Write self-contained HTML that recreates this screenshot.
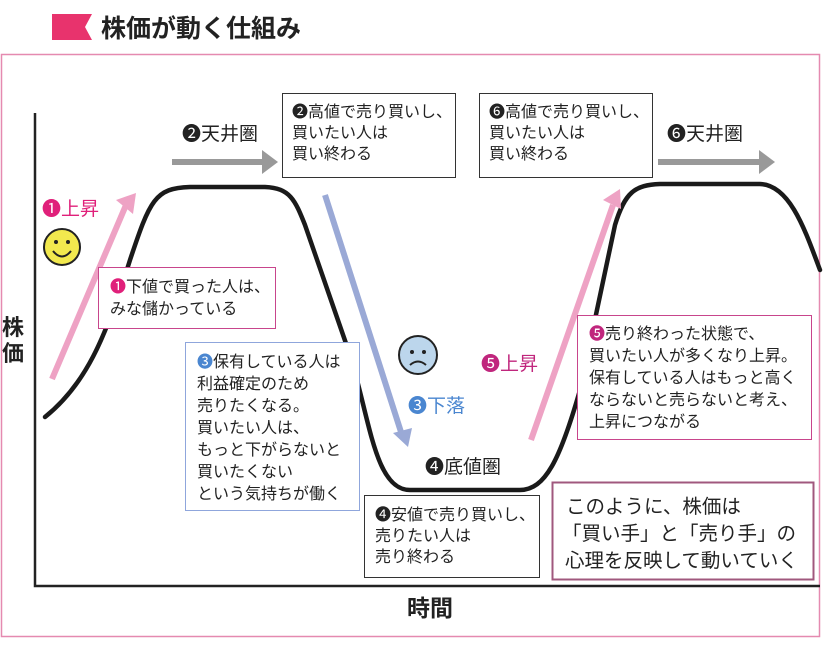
<!DOCTYPE html>
<html><head><meta charset="utf-8"><style>
html,body{margin:0;padding:0;background:#fff;}
svg{display:block;font-family:"Liberation Sans","Noto Sans CJK JP",sans-serif;}
</style></head><body>
<svg width="829" height="645" viewBox="0 0 829 645" xmlns="http://www.w3.org/2000/svg">
<!-- title -->
<polygon points="52,14 92,14 85,27 92,40 52,40" fill="#e8336d"/>
<text x="101" y="37" font-size="25" font-weight="bold" fill="#222">株価が動く仕組み</text>
<!-- frame -->
<rect x="1.5" y="54.5" width="818" height="582" fill="none" stroke="#e58ab0" stroke-width="1.5"/>
<!-- axes -->
<path d="M35,113 L35,586 L820,586" fill="none" stroke="#222" stroke-width="2.5"/>
<text x="2" y="335" font-size="22" font-weight="bold" fill="#222">株</text>
<text x="2" y="361" font-size="22" font-weight="bold" fill="#222">価</text>
<text x="407" y="616" font-size="23" font-weight="bold" fill="#222">時間</text>
<!-- curve -->
<path d="M45,417 C85,385 105,340 130,260 C150,200 155,188 190,187 L265,187 C290,188 295,200 305,225 L350,355 C370,420 375,490 410,490 L520,490 C545,490 560,460 580,390 L615,225 C625,192 635,185 660,184 L760,184 C790,185 805,230 820,270" fill="none" stroke="#1a1a1a" stroke-width="4.5" stroke-linecap="round"/>
<!-- gray arrows -->
<line x1="172" y1="162" x2="265" y2="162" stroke="#999" stroke-width="6"/>
<polygon points="262,150 278,162 262,174" fill="#999"/>
<line x1="658" y1="162" x2="762" y2="162" stroke="#999" stroke-width="6"/>
<polygon points="759,150 775,162 759,174" fill="#999"/>
<!-- pink up arrow 1 -->
<line x1="52" y1="379" x2="126" y2="205" stroke="#eea2c4" stroke-width="6"/>
<polygon points="116,200 136,193 133,214" fill="#eea2c4"/>
<!-- blue down arrow -->
<line x1="325" y1="195" x2="401" y2="432" stroke="#9aa9d6" stroke-width="6"/>
<polygon points="393,433 408,447 412,428" fill="#9aa9d6"/>
<!-- pink up arrow 5 -->
<line x1="531" y1="440" x2="613" y2="205" stroke="#eea2c4" stroke-width="6"/>
<polygon points="603,200 620,189 621,209" fill="#eea2c4"/>
<!-- labels -->
<text x="182" y="140" font-size="19" fill="#222">❷天井圏</text>
<text x="667" y="140" font-size="19" fill="#222">❻天井圏</text>
<text x="42" y="215" font-size="19" fill="#e0207a">❶上昇</text>
<text x="481" y="370" font-size="19" fill="#c0267d">❺上昇</text>
<text x="408" y="412" font-size="19" fill="#4a86d0">❸下落</text>
<text x="425" y="473" font-size="19" fill="#222">❹底値圏</text>
<!-- smiley -->
<circle cx="62" cy="247" r="18" fill="#f2e94e" stroke="#222" stroke-width="2"/>
<circle cx="56" cy="242" r="2" fill="#222"/><circle cx="68" cy="242" r="2" fill="#222"/>
<path d="M53,251 Q62,262 71,251" fill="none" stroke="#222" stroke-width="2"/>
<!-- sad -->
<circle cx="418" cy="355" r="19" fill="#bcd6ec" stroke="#222" stroke-width="2"/>
<circle cx="412" cy="352" r="2" fill="#222"/><circle cx="424" cy="352" r="2" fill="#222"/>
<path d="M410,365 Q418,358 426,365" fill="none" stroke="#222" stroke-width="2"/>
<!-- boxes -->
<rect x="282.5" y="93.5" width="173" height="84" fill="#fff" stroke="#333"/>
<text font-size="16" fill="#222"><tspan x="292" y="117">❷高値で売り買いし、</tspan><tspan x="292" y="138">買いたい人は</tspan><tspan x="292" y="159">買い終わる</tspan></text>
<rect x="479.5" y="93.5" width="173" height="84" fill="#fff" stroke="#333"/>
<text font-size="16" fill="#222"><tspan x="489" y="117">❻高値で売り買いし、</tspan><tspan x="489" y="138">買いたい人は</tspan><tspan x="489" y="159">買い終わる</tspan></text>
<rect x="98.5" y="267.5" width="177" height="61" fill="#fff" stroke="#c8458c"/>
<text font-size="16" fill="#222"><tspan x="110" y="292"><tspan fill="#e0207a">❶</tspan>下値で買った人は、</tspan><tspan x="110" y="314">みな儲かっている</tspan></text>
<rect x="185.5" y="342.5" width="174" height="168" fill="#fff" stroke="#8fa6dc"/>
<text font-size="16" fill="#222"><tspan x="197" y="367"><tspan fill="#4a86d0">❸</tspan>保有している人は</tspan><tspan x="197" y="389">利益確定のため</tspan><tspan x="197" y="411">売りたくなる。</tspan><tspan x="197" y="433">買いたい人は、</tspan><tspan x="197" y="455">もっと下がらないと</tspan><tspan x="197" y="477">買いたくない</tspan><tspan x="197" y="499">という気持ちが働く</tspan></text>
<rect x="364.5" y="495.5" width="175" height="82" fill="#fff" stroke="#333"/>
<text font-size="16" fill="#222"><tspan x="375" y="520">❹安値で売り買いし、</tspan><tspan x="375" y="541">売りたい人は</tspan><tspan x="375" y="562">売り終わる</tspan></text>
<rect x="577.5" y="315.5" width="234" height="124" fill="#fff" stroke="#c8458c"/>
<text font-size="16" fill="#222"><tspan x="589" y="339"><tspan fill="#c0267d">❺</tspan>売り終わった状態で、</tspan><tspan x="589" y="361">買いたい人が多くなり上昇。</tspan><tspan x="589" y="383">保有している人はもっと高く</tspan><tspan x="589" y="405">ならないと売らないと考え、</tspan><tspan x="589" y="427">上昇につながる</tspan></text>
<rect x="552.5" y="482.5" width="261" height="97" fill="#fff" stroke="#a0587e" stroke-width="2"/>
<text font-size="19.5" fill="#222"><tspan x="566" y="513">このように、株価は</tspan><tspan x="562" y="540">「買い手」と「売り手」の</tspan><tspan x="565" y="567">心理を反映して動いていく</tspan></text>
</svg>
</body></html>
